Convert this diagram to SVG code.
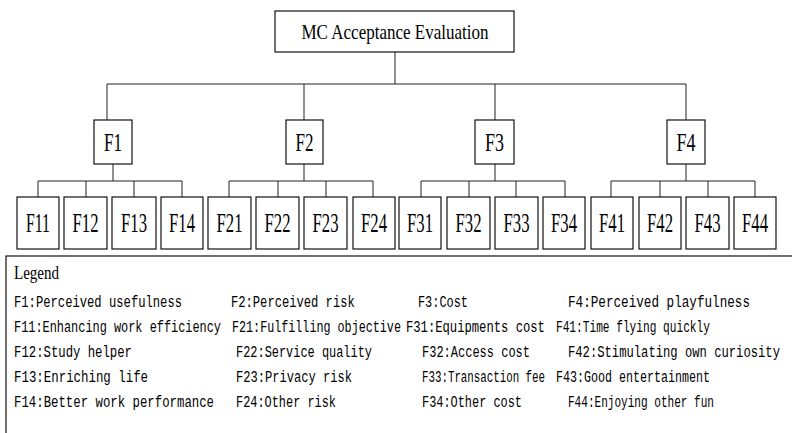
<svg xmlns="http://www.w3.org/2000/svg" width="792" height="433" viewBox="0 0 792 433">
<style>
.box{fill:#fff;stroke:#111;stroke-width:1.2}
.ln{fill:none;stroke:#222;stroke-width:1}
.t{font-family:"Liberation Serif",serif;fill:#000;text-anchor:middle}
.lg{font-family:"Liberation Mono",monospace;font-size:16px;fill:#000}
</style>
<rect width="792" height="433" fill="#fff"/>
<g id="connectors" class="ln">
<path d="M395 52V84M107 84H686M107 84V120M304 84V120M495 84V120M686 84V120"/>
<path d="M113 164V181M38 181H182M38 181V197M86 181V197M134 181V197M182 181V197"/>
<path d="M304 164V181M229 181H373M229 181V197M278 181V197M326 181V197M373 181V197"/>
<path d="M495 164V181M421 181H565M421 181V197M469 181V197M516 181V197M565 181V197"/>
<path d="M686 164V181M611 181H755M611 181V197M660 181V197M708 181V197M755 181V197"/>
</g>
<g id="root"><rect class="box" x="275" y="11" width="239" height="41"/><text class="t" x="395" y="39" font-size="21" textLength="187" lengthAdjust="spacingAndGlyphs">MC Acceptance Evaluation</text></g>
<g id="F1"><rect class="box" x="94" y="120" width="38" height="44"/><text class="t" x="113" y="151" font-size="25" textLength="18" lengthAdjust="spacingAndGlyphs">F1</text></g>
<g id="F2"><rect class="box" x="286" y="120" width="37" height="44"/><text class="t" x="304.5" y="151" font-size="25" textLength="18" lengthAdjust="spacingAndGlyphs">F2</text></g>
<g id="F3"><rect class="box" x="475" y="120" width="39" height="44"/><text class="t" x="494.5" y="151" font-size="25" textLength="19" lengthAdjust="spacingAndGlyphs">F3</text></g>
<g id="F4"><rect class="box" x="667" y="120" width="38" height="44"/><text class="t" x="686" y="151" font-size="25" textLength="19" lengthAdjust="spacingAndGlyphs">F4</text></g>
<g id="F11"><rect class="box" x="17" y="197" width="42" height="52"/><text class="t" x="38" y="232" font-size="28" textLength="24" lengthAdjust="spacingAndGlyphs">F11</text></g>
<g id="F12"><rect class="box" x="64" y="197" width="43" height="52"/><text class="t" x="85.5" y="232" font-size="28" textLength="26" lengthAdjust="spacingAndGlyphs">F12</text></g>
<g id="F13"><rect class="box" x="112" y="197" width="44" height="52"/><text class="t" x="134" y="232" font-size="28" textLength="26" lengthAdjust="spacingAndGlyphs">F13</text></g>
<g id="F14"><rect class="box" x="161" y="197" width="42" height="52"/><text class="t" x="182" y="232" font-size="28" textLength="26" lengthAdjust="spacingAndGlyphs">F14</text></g>
<g id="F21"><rect class="box" x="208" y="197" width="43" height="52"/><text class="t" x="229.5" y="232" font-size="28" textLength="26" lengthAdjust="spacingAndGlyphs">F21</text></g>
<g id="F22"><rect class="box" x="256" y="197" width="43" height="52"/><text class="t" x="277.5" y="232" font-size="28" textLength="26" lengthAdjust="spacingAndGlyphs">F22</text></g>
<g id="F23"><rect class="box" x="304" y="197" width="43" height="52"/><text class="t" x="325.5" y="232" font-size="28" textLength="26" lengthAdjust="spacingAndGlyphs">F23</text></g>
<g id="F24"><rect class="box" x="353" y="197" width="42" height="52"/><text class="t" x="374" y="232" font-size="28" textLength="26" lengthAdjust="spacingAndGlyphs">F24</text></g>
<g id="F31"><rect class="box" x="399" y="197" width="42" height="52"/><text class="t" x="420" y="232" font-size="28" textLength="26" lengthAdjust="spacingAndGlyphs">F31</text></g>
<g id="F32"><rect class="box" x="447" y="197" width="43" height="52"/><text class="t" x="468.5" y="232" font-size="28" textLength="26" lengthAdjust="spacingAndGlyphs">F32</text></g>
<g id="F33"><rect class="box" x="495" y="197" width="43" height="52"/><text class="t" x="516.5" y="232" font-size="28" textLength="26" lengthAdjust="spacingAndGlyphs">F33</text></g>
<g id="F34"><rect class="box" x="543" y="197" width="42" height="52"/><text class="t" x="564" y="232" font-size="28" textLength="26" lengthAdjust="spacingAndGlyphs">F34</text></g>
<g id="F41"><rect class="box" x="591" y="197" width="42" height="52"/><text class="t" x="612" y="232" font-size="28" textLength="26" lengthAdjust="spacingAndGlyphs">F41</text></g>
<g id="F42"><rect class="box" x="639" y="197" width="42" height="52"/><text class="t" x="660" y="232" font-size="28" textLength="26" lengthAdjust="spacingAndGlyphs">F42</text></g>
<g id="F43"><rect class="box" x="686" y="197" width="43" height="52"/><text class="t" x="707.5" y="232" font-size="28" textLength="26" lengthAdjust="spacingAndGlyphs">F43</text></g>
<g id="F44"><rect class="box" x="734" y="197" width="42" height="52"/><text class="t" x="755" y="232" font-size="28" textLength="26" lengthAdjust="spacingAndGlyphs">F44</text></g>
<g id="legend">
<rect class="box" x="6" y="256" width="800" height="190"/>
<text x="14" y="279" font-family="Liberation Serif, serif" font-size="19" textLength="45" lengthAdjust="spacingAndGlyphs">Legend</text>
<g class="lg" transform="scale(0.75 1)">
<text x="18.7" y="307" textLength="224" lengthAdjust="spacingAndGlyphs">F1:Perceived usefulness</text>
<text x="308" y="307" textLength="165" lengthAdjust="spacingAndGlyphs">F2:Perceived risk</text>
<text x="557.3" y="307" textLength="66.7" lengthAdjust="spacingAndGlyphs">F3:Cost</text>
<text x="757.3" y="307" textLength="242.7" lengthAdjust="spacingAndGlyphs">F4:Perceived playfulness</text>
<text x="18.7" y="332" textLength="276" lengthAdjust="spacingAndGlyphs">F11:Enhancing work efficiency</text>
<text x="309.3" y="332" textLength="225.3" lengthAdjust="spacingAndGlyphs">F21:Fulfilling objective</text>
<text x="541.3" y="332" textLength="185.3" lengthAdjust="spacingAndGlyphs">F31:Equipments cost</text>
<text x="741.3" y="332" textLength="205.3" lengthAdjust="spacingAndGlyphs">F41:Time flying quickly</text>
<text x="18.7" y="357" textLength="157.3" lengthAdjust="spacingAndGlyphs">F12:Study helper</text>
<text x="314.7" y="357" textLength="181.3" lengthAdjust="spacingAndGlyphs">F22:Service quality</text>
<text x="562.7" y="357" textLength="144" lengthAdjust="spacingAndGlyphs">F32:Access cost</text>
<text x="757.3" y="357" textLength="282.7" lengthAdjust="spacingAndGlyphs">F42:Stimulating own curiosity</text>
<text x="18.7" y="382" textLength="178.7" lengthAdjust="spacingAndGlyphs">F13:Enriching life</text>
<text x="314.7" y="382" textLength="154.7" lengthAdjust="spacingAndGlyphs">F23:Privacy risk</text>
<text x="562.7" y="382" textLength="164" lengthAdjust="spacingAndGlyphs">F33:Transaction fee</text>
<text x="741.3" y="382" textLength="205.3" lengthAdjust="spacingAndGlyphs">F43:Good entertainment</text>
<text x="18.7" y="407" textLength="266.7" lengthAdjust="spacingAndGlyphs">F14:Better work performance</text>
<text x="314.7" y="407" textLength="133.3" lengthAdjust="spacingAndGlyphs">F24:Other risk</text>
<text x="562.7" y="407" textLength="133.3" lengthAdjust="spacingAndGlyphs">F34:Other cost</text>
<text x="757.3" y="407" textLength="194.7" lengthAdjust="spacingAndGlyphs">F44:Enjoying other fun</text>
</g>
</g>
</svg>
